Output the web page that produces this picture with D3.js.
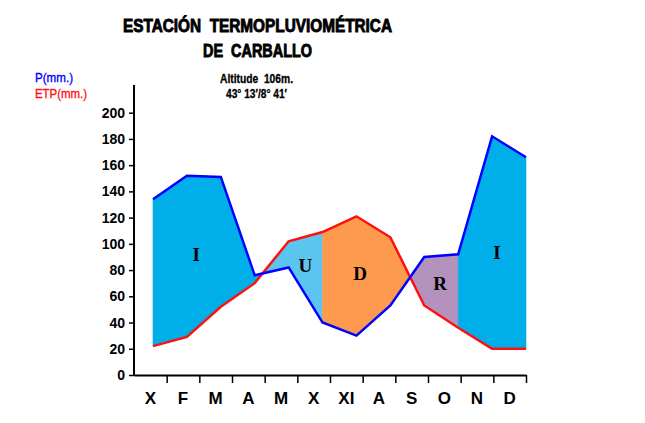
<!DOCTYPE html>
<html>
<head>
<meta charset="utf-8">
<script src="https://cdn.jsdelivr.net/npm/d3@7"></script>
<style>
  body { margin: 0; background: #fff; }
  text { font-family: "Liberation Sans", Arial, sans-serif; white-space: pre; }
</style>
</head>
<body>
<script>

var width = 645,
  height = 423;

// monthly data, Carballo station
var months = ["X", "F", "M", "A", "M", "X", "XI", "A", "S", "O", "N", "D"];
var precip = [134, 152, 151, 76, 82, 40, 30, 53, 90, 92, 182, 166];
var etp = [22, 29, 52, 70, 102, 109, 121, 105, 53, 36, 20, 20];
var yTicks = [0, 20, 40, 60, 80, 100, 120, 140, 160, 180, 200];
var zoneNames = ["I", "U", "D", "R", "I"];
// months where the reserve runs out (June) and is full again (October)
var reserveEmpty = 5,
  reserveFull = 9;

var zoneFill = {I: "#00aeea", U: "#5bc5ef", D: "#fe9a4e", R: "#b392be"};

var svg = d3.select("body").append("svg")
  .attr("width", width)
  .attr("height", height);

var y = d3.scaleLinear().domain([0, 200]).range([375, 112.7]);
var xi = d3.scaleLinear().domain([0, 11]).range([153, 526]);   // data points
var xEdge = d3.scaleLinear().domain([0, 12]).range([134, 526]); // month bands

// where P and ETP cross
function crossings(){
  var c = [];
  for (var i = 0; i < precip.length - 1; i++) {
    var d0 = precip[i] - etp[i], d1 = precip[i+1] - etp[i+1];
    if (d0 * d1 < 0) c.push(i + d0 / (d0 - d1));
  }
  return c;
}

function valAt(arr, t){
  var i = Math.min(Math.floor(t), arr.length - 2), f = t - i;
  return arr[i] + (arr[i+1] - arr[i]) * f;
}

function zonePoly(a, b){
  var ts = [a];
  for (var k = Math.ceil(a); k < b; k++) if (k > a) ts.push(k);
  ts.push(b);
  var top = ts.map(function(t){ return [xi(t), y(valAt(precip, t))]; });
  var bot = ts.slice().reverse().map(function(t){ return [xi(t), y(valAt(etp, t))]; });
  return top.concat(bot);
}

var cr = crossings();
var bounds = [0, cr[0], reserveEmpty, cr[1], reserveFull, precip.length - 1];
var zones = zoneNames.map(function(n, i){
  return {name: n, poly: zonePoly(bounds[i], bounds[i+1])};
});

svg.selectAll("path.zone").data(zones).enter().append("path")
  .attr("class", "zone")
  .attr("d", function(d){ return "M" + d.poly.join("L") + "Z"; })
  .attr("fill", function(d){ return zoneFill[d.name]; })
  .attr("stroke", function(d){ return zoneFill[d.name]; })
  .attr("stroke-width", 0.6);

var line = d3.line()
  .x(function(d, i){ return xi(i); })
  .y(function(d){ return y(d); });

svg.append("path").datum(etp)
  .attr("d", line)
  .attr("fill", "none")
  .attr("stroke", "#ff1010")
  .attr("stroke-width", 2.5)
  .attr("stroke-linejoin", "miter");

svg.append("path").datum(precip)
  .attr("d", line)
  .attr("fill", "none")
  .attr("stroke", "#0000ff")
  .attr("stroke-width", 2.5)
  .attr("stroke-linejoin", "miter");

svg.selectAll("text.zone").data(zones).enter().append("text")
  .attr("class", "zone")
  .attr("x", function(d){ return d3.polygonCentroid(d.poly)[0] + 1; })
  .attr("y", function(d){ return d3.polygonCentroid(d.poly)[1] - 2; })
  .attr("dy", "0.35em")
  .attr("text-anchor", "middle")
  .style("font-family", "'Liberation Serif', 'Times New Roman', serif")
  .style("font-weight", "bold")
  .style("font-size", "19px")
  .text(function(d){ return d.name; });

// y axis
var yAxis = svg.append("g")
  .attr("transform", "translate(134,0)")
  .call(d3.axisLeft(y).tickValues(yTicks).tickSize(5).tickPadding(4).tickSizeOuter(0));
yAxis.select(".domain").remove();
yAxis.selectAll(".tick line").attr("stroke", "#000").attr("stroke-width", 1.5);
yAxis.selectAll("text")
  .attr("fill", "#000")
  .style("font-size", "14px")
  .style("font-weight", "bold")
  .style("font-family", "'Liberation Sans', Arial, sans-serif");
svg.append("line")
  .attr("x1", 134).attr("x2", 134)
  .attr("y1", 85).attr("y2", 376)
  .attr("stroke", "#000").attr("stroke-width", 2);

// x axis
var xAxis = svg.append("g")
  .attr("transform", "translate(0,375)")
  .call(d3.axisBottom(xEdge).tickValues(d3.range(1, 13)).tickSize(8).tickFormat("").tickSizeOuter(0));
xAxis.select(".domain").attr("stroke", "#000").attr("stroke-width", 2);
xAxis.selectAll(".tick line").attr("stroke", "#000").attr("stroke-width", 1.5);

svg.selectAll("text.month").data(months).enter().append("text")
  .attr("class", "month")
  .attr("x", function(d, i){ return xEdge(i + 0.5); })
  .attr("y", 404)
  .attr("text-anchor", "middle")
  .style("font-size", "17px")
  .style("font-weight", "bold")
  .text(function(d){ return d; });

// titles
svg.append("text")
  .attr("x", 123).attr("y", 32)
  .attr("textLength", 269).attr("lengthAdjust", "spacingAndGlyphs")
  .style("font-size", "18px").style("font-weight", "bold")
  .attr("stroke", "#000").attr("stroke-width", 0.9)
  .text("ESTACIÓN  TERMOPLUVIOMÉTRICA");
svg.append("text")
  .attr("x", 203).attr("y", 57)
  .attr("textLength", 109).attr("lengthAdjust", "spacingAndGlyphs")
  .style("font-size", "18px").style("font-weight", "bold")
  .attr("stroke", "#000").attr("stroke-width", 0.9)
  .text("DE  CARBALLO");

svg.append("text")
  .attr("x", 220).attr("y", 82.5)
  .attr("textLength", 73).attr("lengthAdjust", "spacingAndGlyphs")
  .style("font-size", "12px").style("font-weight", "bold")
  .attr("stroke", "#000").attr("stroke-width", 0.3)
  .text("Altitude  106m.");
svg.append("text")
  .attr("x", 226).attr("y", 97.5)
  .attr("textLength", 61).attr("lengthAdjust", "spacingAndGlyphs")
  .style("font-size", "12px").style("font-weight", "bold")
  .attr("stroke", "#000").attr("stroke-width", 0.3)
  .text("43° 13′/8° 41′");

svg.append("text")
  .attr("x", 35).attr("y", 81.5)
  .attr("fill", "#0000ff")
  .attr("stroke", "#0000ff").attr("stroke-width", 0.35)
  .attr("textLength", 38).attr("lengthAdjust", "spacingAndGlyphs")
  .style("font-size", "13px")
  .text("P(mm.)");
svg.append("text")
  .attr("x", 35).attr("y", 98)
  .attr("fill", "#ff1010")
  .attr("stroke", "#ff1010").attr("stroke-width", 0.35)
  .attr("textLength", 52).attr("lengthAdjust", "spacingAndGlyphs")
  .style("font-size", "13px")
  .text("ETP(mm.)");

</script>
</body>
</html>
